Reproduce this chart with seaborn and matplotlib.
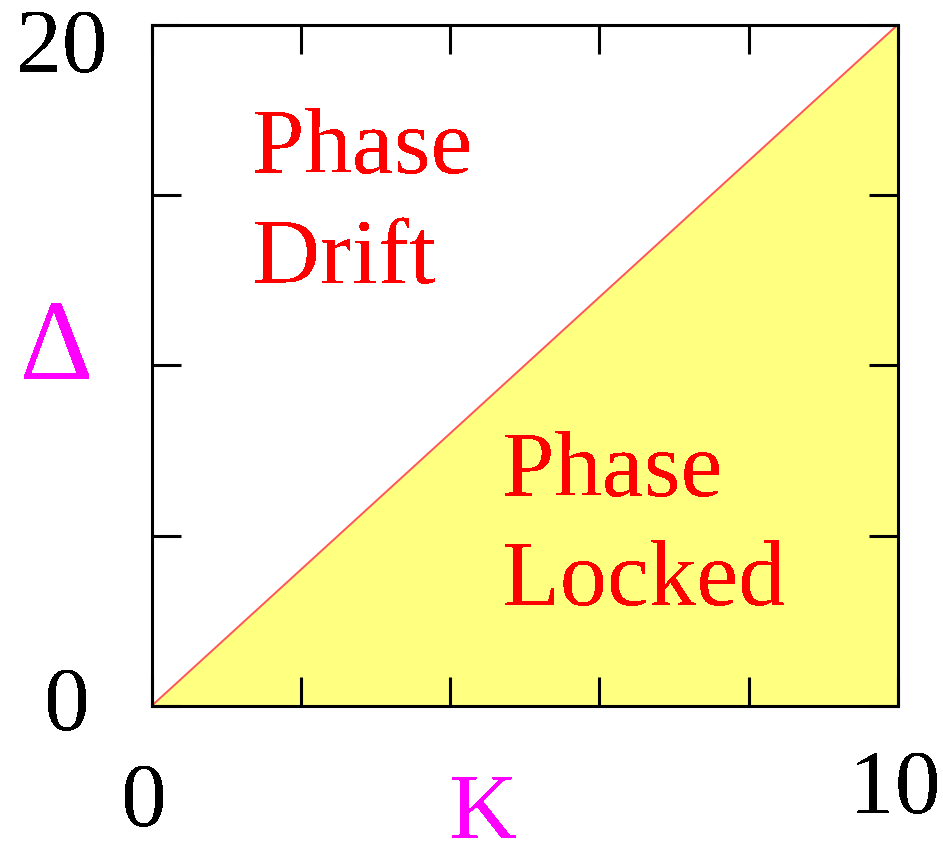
import matplotlib
matplotlib.use("Agg")
import matplotlib.pyplot as plt
import seaborn as sns
import pandas as pd

# Locking boundary: Delta = 2 K
coupling_k = [0, 10]
detuning_delta = [0, 20]

x_ticks = [0, 2, 4, 6, 8, 10]
y_ticks = [0, 5, 10, 15, 20]

sns.set_style("white")
plt.rcParams["font.family"] = ["Liberation Serif", "DejaVu Serif"]
plt.rcParams["text.antialiased"] = False

df = pd.DataFrame({"K": coupling_k, "Delta": detuning_delta})

fig = plt.figure(figsize=(9.43, 8.44), dpi=100)
W, H = 943, 844
ax = fig.add_axes([151.5 / W, 1 - 706 / H, (898 - 151.5) / W, (706 - 24.5) / H])
ax.set_axisbelow(False)

ax.fill_between(df["K"], 0, df["Delta"], color="#FFFF80", lw=0, zorder=1)
sns.lineplot(data=df, x="K", y="Delta", ax=ax, color="#FF5555", lw=1.4, zorder=2)

ax.set_xlim(0, 10)
ax.set_ylim(0, 20)
ax.set_xticks(x_ticks)
ax.set_yticks(y_ticks)
ax.set_xticklabels([])
ax.set_yticklabels([])
ax.tick_params(direction="in", length=21, width=2.2, color="black",
               top=True, right=True, bottom=True, left=True)
for s in ax.spines.values():
    s.set_visible(True)
    s.set_color("black")
    s.set_linewidth(2.2)
    s.set_zorder(5)
ax.set_xlabel("")
ax.set_ylabel("")

# end tick labels
ink = "black"
ax.text(-0.10, -3.52, "0", fontsize=66, color=ink, ha="center", va="baseline", clip_on=False)
ax.text(9.96, -3.14, "10", fontsize=66, color=ink, ha="center", va="baseline", clip_on=False)
ax.text(-1.20, 18.61, "20", fontsize=66, color=ink, ha="center", va="baseline", clip_on=False)
ax.text(-1.13, -0.70, "0", fontsize=66, color=ink, ha="center", va="baseline", clip_on=False)

# axis names
ax.text(4.44, -3.86, "K", fontsize=68, color="#FF00FF", ha="center", va="baseline", clip_on=False)
ax.text(-1.27, 9.60, "Δ", fontsize=82, color="#FF00FF", ha="center", va="baseline", clip_on=False)

# region labels
red = "#FF0000"
ax.text(1.35, 15.64, "Phase", fontsize=68, color=red, ha="left", va="baseline")
ax.text(1.35, 12.41, "Drift", fontsize=68, color=red, ha="left", va="baseline")
ax.text(4.70, 6.16, "Phase", fontsize=68, color=red, ha="left", va="baseline")
ax.text(4.70, 2.96, "Locked", fontsize=68, color=red, ha="left", va="baseline")

fig.savefig("out.png", dpi=100)
